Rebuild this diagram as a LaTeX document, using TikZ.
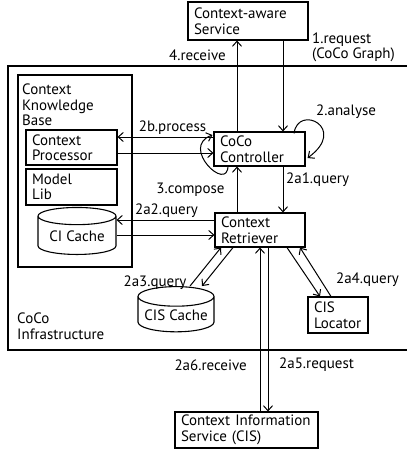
\documentclass[tikz,border=0pt]{standalone}
\usepackage{fontspec}
\setmainfont{PT Sans}
\usetikzlibrary{arrows.meta,shapes.geometric}

\tikzset{
  box/.style={draw, line width=1.1pt, rectangle, align=left, inner xsep=6pt, inner ysep=3pt,
    font=\fontsize{15}{15.5}\selectfont},
  store/.style={draw, line width=1.1pt, cylinder, shape border rotate=90, aspect=0.3,
    inner xsep=1pt, font=\fontsize{15}{15.5}\selectfont},
  flow/.style={-{Straight Barb[length=5pt,width=9pt]}, line width=1pt},
  lbl/.style={inner sep=0pt, align=left, font=\fontsize{15}{15.5}\selectfont}
}

\begin{document}
\begin{tikzpicture}[x=1pt,y=-1pt]
        \useasboundingbox (0,0) rectangle (407,450);

        % CoCo Infrastructure
        \draw[line width=1.2pt] (412,66) -- (8,66) -- (8,350) -- (412,350);
        \node[lbl, anchor=west] (infra) at (17,326) {CoCo\\Infrastructure};

        % Context Knowledge Base
        \node[box, minimum width=114, minimum height=192] (kb) at (75,171) {};
        \node[lbl, anchor=west] (kblbl) at (22,105) {Context\\Knowledge\\Base};
        \node[box, text width=79, minimum height=35] (proc) at (71.5,147.5) {Context\\Processor};
        \node[box, text width=79, minimum height=36] (mlib) at (71.5,187) {Model\\Lib};
        \node[store, minimum width=78, minimum height=47] (cic) at (77,236.5) {CI Cache};

        % Main components
        \node[box, text width=108, minimum height=38] (svc) at (248,21) {Context-aware\\Service};
        \node[box, text width=79, minimum height=34] (ctrl) at (259.5,149) {CoCo\\Controller};
        \node[box, text width=78, minimum height=34] (retr) at (260,230) {Context\\Retriever};
        \node[store, minimum width=76, minimum height=43] (cisc) at (176,315.5) {CIS Cache};
        \node[box, text width=48, minimum height=36] (loc) at (338,315) {CIS\\Locator};
        \node[box, text width=131, minimum height=36] (cis) at (246.5,430) {Context Information\\Service (CIS)};

        % Service <-> Controller
        \draw[flow] ([xshift=35]svc.south) -- ([xshift=35]svc.south |- ctrl.north);
        \draw[flow] ([xshift=-22.5]ctrl.north) -- ([xshift=-22.5]ctrl.north |- svc.south);
        \node[lbl, anchor=east] (l4) at (226,55) {4.receive};
        \node[lbl, anchor=west] (l1) at (312,47.5) {1.request\\(CoCo Graph)};

        % Controller loops
        \draw[flow] ([shift={(34.5,2)}]ctrl.north) .. controls +(4,-30) and +(41,-30) .. ([shift={(2,9)}]ctrl.east);
        \node[lbl, anchor=west] (l2) at (316,112) {2.analyse};
        \draw[flow] ([shift={(-31.5,-1)}]ctrl.south) .. controls +(0,28) and +(-33,12) .. ([shift={(-1,-14)}]ctrl.west);
        \node[lbl] (l3) at (190.5,190) {3.compose};

        % Controller <-> Processor
        \draw[flow] ([yshift=12]ctrl.west) -- ([yshift=12]ctrl.west -| proc.east);
        \draw[flow] ([yshift=-4]ctrl.west -| proc.east) -- ([yshift=-4]ctrl.west);
        \node[lbl] (l2b) at (172.5,128) {2b.process};

        % Controller <-> Retriever
        \draw[flow] ([xshift=23.5]ctrl.south) -- ([xshift=23.5]ctrl.south |- retr.north);
        \draw[flow] ([xshift=-23]retr.north) -- ([xshift=-23]retr.north |- ctrl.south);
        \node[lbl, anchor=west] (l2a1) at (286,180) {2a1.query};

        % Retriever <-> CI Cache
        \draw[flow] ([yshift=10]retr.west) -- ([yshift=10]retr.west -| cic.east);
        \draw[flow] ([yshift=-5]retr.west -| cic.east) -- ([yshift=-5]retr.west);
        \node[lbl] (l2a2) at (166.5,211) {2a2.query};

        % Retriever <-> CIS Cache
        \draw[flow] ([xshift=14]cisc.north) -- ([xshift=-39]retr.south);
        \draw[flow] ([xshift=-27]retr.south) -- ([xshift=26]cisc.north);
        \node[lbl] (l2a3) at (155,283) {2a3.query};

        % Retriever <-> CIS Locator
        \draw[flow] ([xshift=27]retr.south) -- ([xshift=-18]loc.north);
        \draw[flow] ([xshift=-7]loc.north) -- ([xshift=40]retr.south);
        \node[lbl] (l2a4) at (367.5,280) {2a4.query};

        % Retriever <-> CIS
        \draw[flow] (retr.south |- cis.north) -- (retr.south);
        \draw[flow] ([xshift=8]retr.south) -- ([xshift=8]retr.south |- cis.north);
        \node[lbl, anchor=east] (l2a6) at (247,365) {2a6.receive};
        \node[lbl, anchor=west] (l2a5) at (279,365) {2a5.request};

    \end{tikzpicture}
\end{document}
